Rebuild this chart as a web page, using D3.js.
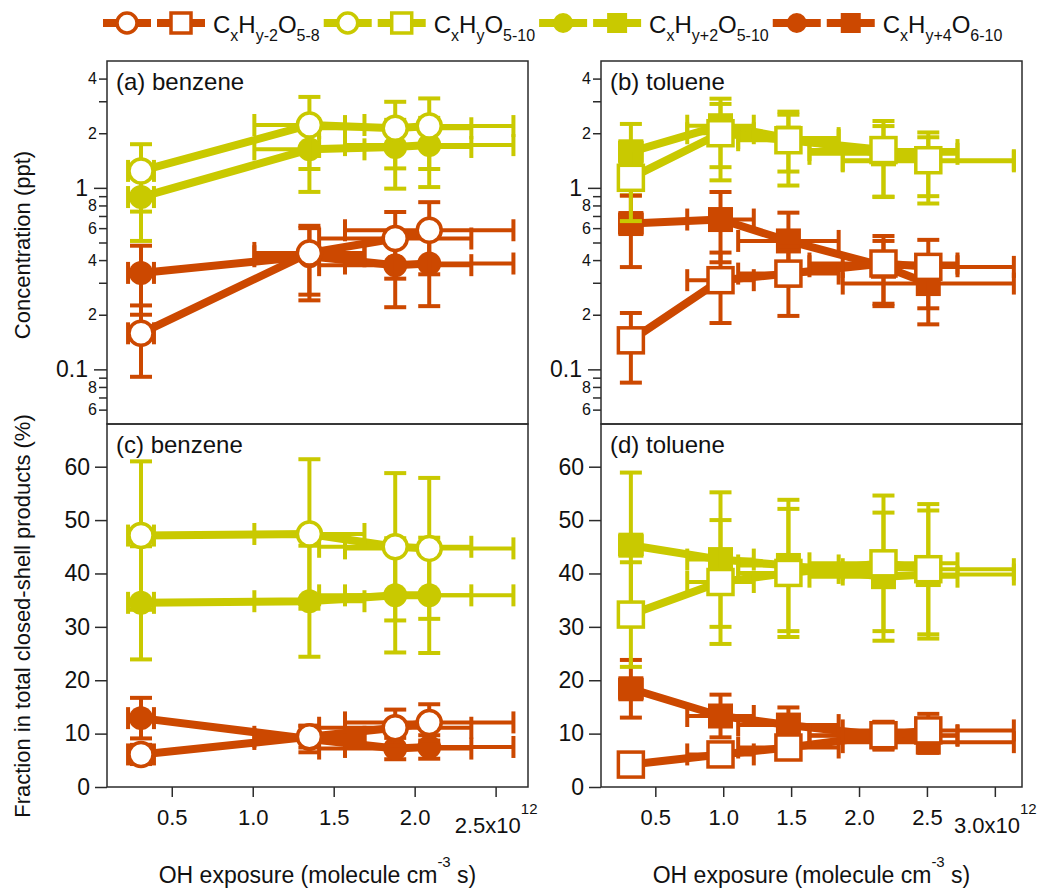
<!DOCTYPE html>
<html>
<head>
<meta charset="utf-8">
<script src="https://cdn.jsdelivr.net/npm/d3@7"></script>
<style>
  body { margin: 0; background: #fff; }
  svg text { font-family: "Liberation Sans", Arial, sans-serif; }
</style>
</head>
<body>
<svg id="chart" width="1043" height="889"></svg>
<script>
// OH exposure, in units of 1e12 molecule cm-3 s
var benzeneX    = [0.31, 1.35, 1.88, 2.09];
var benzeneXErr = [0.08, 0.34, 0.47, 0.52];
var tolueneX    = [0.32, 0.98, 1.48, 2.18, 2.51];
var tolueneXErr = [0.08, 0.245, 0.37, 0.545, 0.63];

// (a) benzene, concentration (ppt)
var benzConcYm2    = [0.158, 0.438, 0.526, 0.584];
var benzConcYm2Err = [0.067, 0.18, 0.21, 0.25];
var benzConcY      = [1.24, 2.22, 2.13, 2.19];
var benzConcYErr   = [0.5, 0.95, 0.85, 0.92];
var benzConcYp2    = [0.89, 1.63, 1.68, 1.72];
var benzConcYp2Err = [0.38, 0.68, 0.69, 0.71];
var benzConcYp4    = [0.34, 0.42, 0.375, 0.383];
var benzConcYp4Err = [0.14, 0.18, 0.155, 0.16];

// (b) toluene, concentration (ppt)
var tolConcYm2    = [0.1445, 0.31, 0.337, 0.383, 0.367];
var tolConcYm2Err = [0.06, 0.13, 0.14, 0.16, 0.15];
var tolConcY      = [1.136, 2.0, 1.83, 1.615, 1.42];
var tolConcYErr   = [0.48, 0.9, 0.8, 0.72, 0.6];
var tolConcYp2    = [1.58, 2.2, 1.88, 1.54, 1.4];
var tolConcYp2Err = [0.67, 0.9, 0.65, 0.65, 0.5];
var tolConcYp4    = [0.636, 0.669, 0.51, 0.37, 0.297];
var tolConcYp4Err = [0.27, 0.28, 0.22, 0.14, 0.12];

// (c) benzene, fraction in total closed-shell products (%)
var benzFracYm2    = [6.1, 9.4, 11.1, 12.1];
var benzFracYm2Err = [1.8, 2.0, 3.4, 3.4];
var benzFracY      = [47.1, 47.4, 45.0, 44.7];
var benzFracYErr   = [13.9, 14.0, 13.8, 13.2];
var benzFracYp2    = [34.5, 34.8, 35.9, 35.9];
var benzFracYp2Err = [10.6, 10.4, 10.7, 10.8];
var benzFracYp4    = [12.9, 9.0, 7.2, 7.5];
var benzFracYp4Err = [3.8, 2.5, 2.0, 2.2];

// (d) toluene, fraction in total closed-shell products (%)
var tolFracYm2    = [4.2, 6.1, 7.4, 9.7, 10.6];
var tolFracYm2Err = [1.5, 1.5, 1.8, 2.5, 3.1];
var tolFracY      = [32.3, 38.4, 40.1, 41.9, 40.8];
var tolFracYErr   = [9.8, 11.6, 12.0, 12.7, 12.2];
var tolFracYp2    = [45.3, 42.6, 41.5, 39.4, 39.8];
var tolFracYp2Err = [13.6, 12.6, 12.3, 12.0, 12.0];
var tolFracYp4    = [18.4, 13.3, 11.6, 9.6, 8.4];
var tolFracYp4Err = [5.4, 4.0, 3.3, 2.6, 2.0];

var benzeneXTicks = [0.5, 1.0, 1.5, 2.0, 2.5];
var tolueneXTicks = [0.5, 1.0, 1.5, 2.0, 2.5, 3.0];
var fracYTicks = [0, 10, 20, 30, 40, 50, 60];

var ORANGE = "#cc4800", YELLOW = "#c9c900", INK = "#2b2b2b";

// legend order; label parts are [text, isSubscript]
var series = [
  {key: "ym2", color: ORANGE, open: true,
   label: [["C", 0], ["x", 1], ["H", 0], ["y-2", 1], ["O", 0], ["5-8", 1]]},
  {key: "y", color: YELLOW, open: true,
   label: [["C", 0], ["x", 1], ["H", 0], ["y", 1], ["O", 0], ["5-10", 1]]},
  {key: "yp2", color: YELLOW, open: false,
   label: [["C", 0], ["x", 1], ["H", 0], ["y+2", 1], ["O", 0], ["5-10", 1]]},
  {key: "yp4", color: ORANGE, open: false,
   label: [["C", 0], ["x", 1], ["H", 0], ["y+4", 1], ["O", 0], ["6-10", 1]]}
];
var drawOrder = ["yp2", "yp4", "y", "ym2"];

var panels = [
  {tag: "(a) benzene", left: 107, right: 528, top: 61, bottom: 424, xDom: [0.1, 2.7],
   xs: benzeneX, xe: benzeneXErr, log: true, shape: "circle",
   vals: {ym2: [benzConcYm2, benzConcYm2Err], y: [benzConcY, benzConcYErr],
          yp2: [benzConcYp2, benzConcYp2Err], yp4: [benzConcYp4, benzConcYp4Err]}},
  {tag: "(b) toluene", left: 601, right: 1022, top: 61, bottom: 424, xDom: [0.1, 3.2],
   xs: tolueneX, xe: tolueneXErr, log: true, shape: "square",
   vals: {ym2: [tolConcYm2, tolConcYm2Err], y: [tolConcY, tolConcYErr],
          yp2: [tolConcYp2, tolConcYp2Err], yp4: [tolConcYp4, tolConcYp4Err]}},
  {tag: "(c) benzene", left: 107, right: 528, top: 424, bottom: 787, xDom: [0.1, 2.7],
   xs: benzeneX, xe: benzeneXErr, log: false, shape: "circle", xTicks: benzeneXTicks,
   vals: {ym2: [benzFracYm2, benzFracYm2Err], y: [benzFracY, benzFracYErr],
          yp2: [benzFracYp2, benzFracYp2Err], yp4: [benzFracYp4, benzFracYp4Err]}},
  {tag: "(d) toluene", left: 601, right: 1022, top: 424, bottom: 787, xDom: [0.1, 3.2],
   xs: tolueneX, xe: tolueneXErr, log: false, shape: "square", xTicks: tolueneXTicks,
   vals: {ym2: [tolFracYm2, tolFracYm2Err], y: [tolFracY, tolFracYErr],
          yp2: [tolFracYp2, tolFracYp2Err], yp4: [tolFracYp4, tolFracYp4Err]}}
];

var svg = d3.select("#chart");

function drawMarker(g, shape, cx, cy, s, size) {
  var m;
  if (shape === "circle") {
    m = g.append("circle").attr("cx", cx).attr("cy", cy).attr("r", size / 2);
  } else {
    m = g.append("rect").attr("x", cx - size / 2).attr("y", cy - size / 2)
      .attr("width", size).attr("height", size);
  }
  if (s.open) {
    m.attr("fill", "#fff").attr("stroke", s.color).attr("stroke-width", 3.5);
  } else {
    m.attr("fill", s.color);
  }
}

panels.forEach(function(p) {
  var x = d3.scaleLinear().domain(p.xDom).range([p.left, p.right]);
  var y = p.log
    ? d3.scaleLog().domain([0.05, 5]).range([p.bottom, p.top])
    : d3.scaleLinear().domain([0, 68]).range([p.bottom, p.top]);

  var g = svg.append("g");

  // y axis
  var ax = g.append("g").attr("transform", "translate(" + p.left + ",0)");
  if (p.log) {
    var isDecade = function(d) {
      var l = Math.log10(d);
      return Math.abs(l - Math.round(l)) < 1e-6;
    };
    var logTicks = y.ticks().filter(function(d) { return d > 0.051 && d < 4.9; });
    ax.call(d3.axisLeft(y).tickValues(logTicks).tickSize(8).tickPadding(2)
      .tickFormat(function(d) {
        if (isDecade(d)) return d3.format("~g")(d);
        var m = Math.round(d / Math.pow(10, Math.floor(Math.log10(d) + 1e-9)));
        return m % 2 === 0 ? String(m) : "";
      }));
    ax.selectAll(".tick").each(function(d) {
      var t = d3.select(this), major = isDecade(d);
      t.select("line").attr("x2", major ? -13 : -8);
      t.select("text").attr("x", major ? -19 : -10)
        .attr("font-size", major ? 23 : 16);
    });
  } else {
    ax.call(d3.axisLeft(y).tickValues(fracYTicks).tickSize(12).tickPadding(5));
    ax.selectAll(".tick text").attr("font-size", 23);
  }
  ax.attr("font-family", null).attr("color", INK);
  ax.select(".domain").remove();
  ax.selectAll(".tick line").attr("stroke-width", 1.5);
  ax.selectAll(".tick text").attr("fill", "#111");

  // x axis on lower panels
  if (p.xTicks) {
    var bx = g.append("g").attr("transform", "translate(0," + p.bottom + ")");
    bx.call(d3.axisBottom(x).tickValues(p.xTicks).tickSize(10).tickPadding(12)
      .tickFormat(d3.format(".1f")));
    bx.attr("font-family", null).attr("color", INK);
    bx.select(".domain").remove();
    bx.selectAll(".tick line").attr("stroke-width", 1.5);
    bx.selectAll(".tick text").attr("font-size", 22).attr("fill", "#111");
    var lastTick = bx.selectAll(".tick").filter(function(d, i, n) { return i === n.length - 1; });
    var lt = lastTick.select("text");
    var lastVal = d3.format(".1f")(lastTick.datum());
    lt.text(null).attr("dy", null).attr("y", 46);
    lt.append("tspan").text(lastVal + "x10");
    lt.append("tspan").attr("dy", -19).attr("font-size", 15).text("12");
  }

  // frame
  g.append("rect").attr("x", p.left).attr("y", p.top)
    .attr("width", p.right - p.left).attr("height", p.bottom - p.top)
    .attr("fill", "none").attr("stroke", INK).attr("stroke-width", 1.5);

  g.append("text").attr("x", p.left + 9).attr("y", p.top + 29)
    .attr("font-size", 24).attr("fill", "#111").text(p.tag);

  // data
  var mSize = p.shape === "circle" ? 24 : 25;
  drawOrder.forEach(function(k) {
    var s = series.filter(function(d) { return d.key === k; })[0];
    var v = p.vals[k][0], e = p.vals[k][1];
    var pts = p.xs.map(function(xv, i) {
      return {x: xv, xe: p.xe[i], y: v[i], ye: e[i]};
    });
    var sg = g.append("g");

    sg.append("path").datum(pts)
      .attr("d", d3.line().x(function(d) { return x(d.x); }).y(function(d) { return y(d.y); }))
      .attr("fill", "none").attr("stroke", s.color).attr("stroke-width", 8)
      .attr("stroke-linejoin", "round");

    var eb = sg.append("g").attr("stroke", s.color).attr("stroke-width", 4).attr("fill", "none");
    pts.forEach(function(d) {
      var cx = x(d.x), cy = y(d.y);
      var yl = y(Math.max(d.y - d.ye, 0.001)), yh = y(d.y + d.ye);
      var xl = x(d.x - d.xe), xh = x(d.x + d.xe);
      eb.append("line").attr("x1", cx).attr("x2", cx).attr("y1", yl).attr("y2", yh);
      eb.append("line").attr("x1", cx - 11).attr("x2", cx + 11).attr("y1", yl).attr("y2", yl);
      eb.append("line").attr("x1", cx - 11).attr("x2", cx + 11).attr("y1", yh).attr("y2", yh);
      eb.append("line").attr("x1", xl).attr("x2", xh).attr("y1", cy).attr("y2", cy);
      eb.append("line").attr("x1", xl).attr("x2", xl).attr("y1", cy - 11).attr("y2", cy + 11);
      eb.append("line").attr("x1", xh).attr("x2", xh).attr("y1", cy - 11).attr("y2", cy + 11);
    });

    pts.forEach(function(d) {
      drawMarker(sg, p.shape, x(d.x), y(d.y), s, mSize);
    });
  });
});

// axis titles
svg.append("text").attr("transform", "translate(30,245) rotate(-90)")
  .attr("text-anchor", "middle").attr("font-size", 22).attr("fill", "#111")
  .text("Concentration (ppt)");
svg.append("text").attr("transform", "translate(30,616) rotate(-90)")
  .attr("text-anchor", "middle").attr("font-size", 22).attr("fill", "#111")
  .text("Fraction in total closed-shell products (%)");

[[317.5], [811.5]].forEach(function(c) {
  var t = svg.append("text").attr("x", c[0]).attr("y", 883)
    .attr("text-anchor", "middle").attr("font-size", 23).attr("fill", "#111");
  t.append("tspan").text("OH exposure (molecule cm");
  t.append("tspan").attr("dy", -16).attr("font-size", 15).text("-3");
  t.append("tspan").attr("dy", 16).text(" s)");
});

// legend
var lx = 103, ly = 23;
series.forEach(function(s) {
  var lg = svg.append("g");
  [["circle", lx + 24], ["square", lx + 78]].forEach(function(m) {
    lg.append("line").attr("x1", m[1] - 24).attr("x2", m[1] + 24)
      .attr("y1", ly).attr("y2", ly)
      .attr("stroke", s.color).attr("stroke-width", 8);
    drawMarker(lg, m[0], m[1], ly, s, 20);
  });
  var t = lg.append("text").attr("x", lx + 110).attr("y", ly + 10)
    .attr("font-size", 24).attr("fill", "#111");
  var shift = 0;
  s.label.forEach(function(part) {
    var sub = part[1] === 1;
    var dy = sub ? 8 - shift : -shift;
    shift = sub ? 8 : 0;
    t.append("tspan").attr("dy", dy).attr("font-size", sub ? 16 : 24).text(part[0]);
  });
  lx = lx + 110 + t.node().getComputedTextLength() + 4;
});
</script>
</body>
</html>
